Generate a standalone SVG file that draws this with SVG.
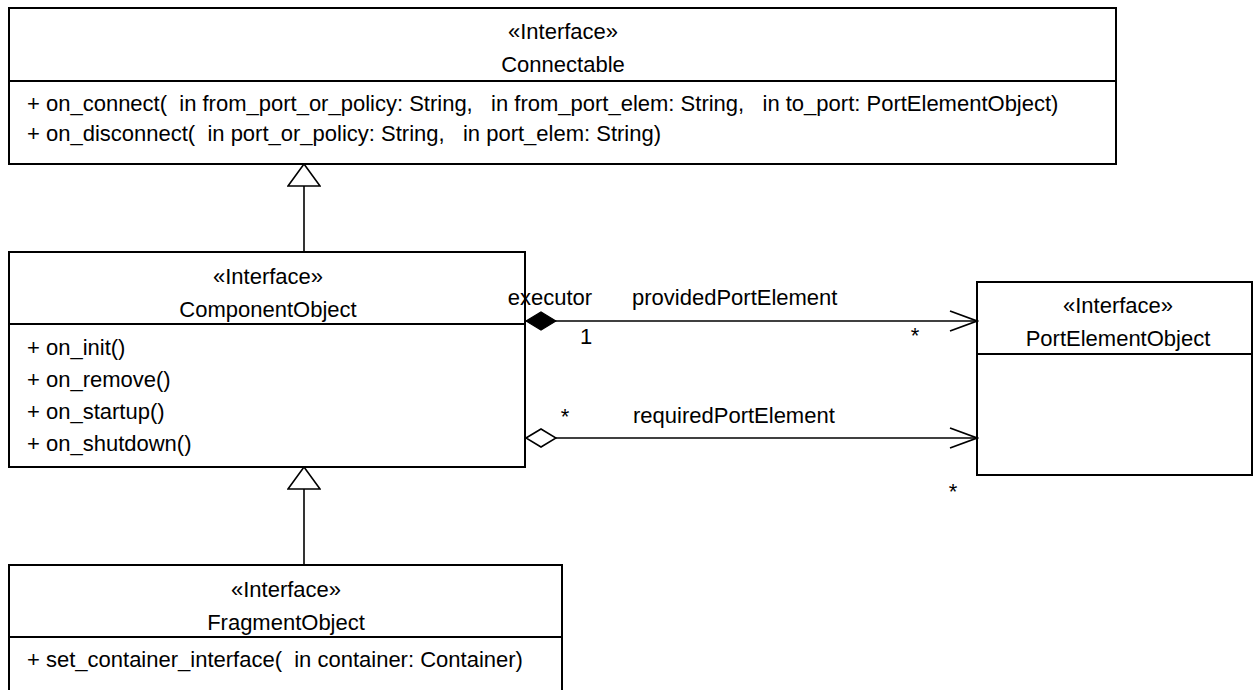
<svg xmlns="http://www.w3.org/2000/svg" width="1253" height="690" viewBox="0 0 1253 690">
<style>
  text { font-family: "Liberation Sans", Arial, sans-serif; font-size: 22px; fill: #000; }
  .c { text-anchor: middle; }
  .box { fill: #fff; stroke: #000; stroke-width: 2; }
  .div { stroke: #000; stroke-width: 2; }
  .ln { fill: none; stroke: #000; stroke-width: 1.6; }
</style>
<defs>
  <marker id="gen" markerUnits="userSpaceOnUse" markerWidth="24" markerHeight="34" viewBox="-1 -1 24 34" refX="22" refY="16" orient="auto">
    <path d="M0,0 L22,16 L0,32 Z" fill="#fff" stroke="#000" stroke-width="1.6"/>
  </marker>
  <marker id="comp" markerUnits="userSpaceOnUse" markerWidth="32" markerHeight="20" viewBox="-1 -1 32 20" refX="0" refY="9" orient="auto">
    <path d="M0,9 L15,0 L30,9 L15,18 Z" fill="#000" stroke="#000" stroke-width="1.2"/>
  </marker>
  <marker id="agg" markerUnits="userSpaceOnUse" markerWidth="32" markerHeight="20" viewBox="-1 -1 32 20" refX="0" refY="9" orient="auto">
    <path d="M0,9 L15,0 L30,9 L15,18 Z" fill="#fff" stroke="#000" stroke-width="1.6"/>
  </marker>
  <marker id="open" markerUnits="userSpaceOnUse" markerWidth="30" markerHeight="24" viewBox="-1 -2 30 24" refX="27" refY="10" orient="auto">
    <path d="M0,0 L27,10 L0,20" fill="none" stroke="#000" stroke-width="1.8"/>
  </marker>
</defs>

<g id="Connectable">
  <rect class="box" x="9" y="8" width="1107" height="156"/>
  <line class="div" x1="9" y1="81" x2="1116" y2="81"/>
  <text class="c" x="563" y="39">«Interface»</text>
  <text class="c" x="563" y="72">Connectable</text>
  <text x="27" y="111" xml:space="preserve">+ on_connect(  in from_port_or_policy: String,   in from_port_elem: String,   in to_port: PortElementObject)</text>
  <text x="27" y="141" xml:space="preserve">+ on_disconnect(  in port_or_policy: String,   in port_elem: String)</text>
</g>

<g id="ComponentObject">
  <rect class="box" x="9" y="252" width="516" height="215"/>
  <line class="div" x1="9" y1="324" x2="525" y2="324"/>
  <text class="c" x="268" y="284">«Interface»</text>
  <text class="c" x="268" y="317">ComponentObject</text>
  <text x="27" y="355">+ on_init()</text>
  <text x="27" y="387">+ on_remove()</text>
  <text x="27" y="419">+ on_startup()</text>
  <text x="27" y="451">+ on_shutdown()</text>
</g>

<g id="PortElementObject">
  <rect class="box" x="977" y="282" width="275" height="193"/>
  <line class="div" x1="977" y1="354" x2="1252" y2="354"/>
  <text class="c" x="1118" y="313">«Interface»</text>
  <text class="c" x="1118" y="346">PortElementObject</text>
</g>

<g id="FragmentObject">
  <rect class="box" x="9" y="565" width="553" height="140"/>
  <line class="div" x1="9" y1="637" x2="562" y2="637"/>
  <text class="c" x="286" y="597">«Interface»</text>
  <text class="c" x="286" y="630">FragmentObject</text>
  <text x="27" y="667" xml:space="preserve">+ set_container_interface(  in container: Container)</text>
</g>

<g id="connectors">
  <path class="ln" d="M304,252 L304,164" marker-end="url(#gen)"/>
  <path class="ln" d="M304,565 L304,467" marker-end="url(#gen)"/>
  <path class="ln" d="M526,321 L977,321" marker-start="url(#comp)" marker-end="url(#open)"/>
  <path class="ln" d="M526,438 L977,438" marker-start="url(#agg)" marker-end="url(#open)"/>
  <text class="c" x="550" y="305">executor</text>
  <text x="632" y="305">providedPortElement</text>
  <text x="580" y="344">1</text>
  <text class="c" x="915" y="343">*</text>
  <text class="c" x="565" y="424">*</text>
  <text x="633" y="423">requiredPortElement</text>
  <text class="c" x="953" y="499">*</text>
</g>
</svg>
